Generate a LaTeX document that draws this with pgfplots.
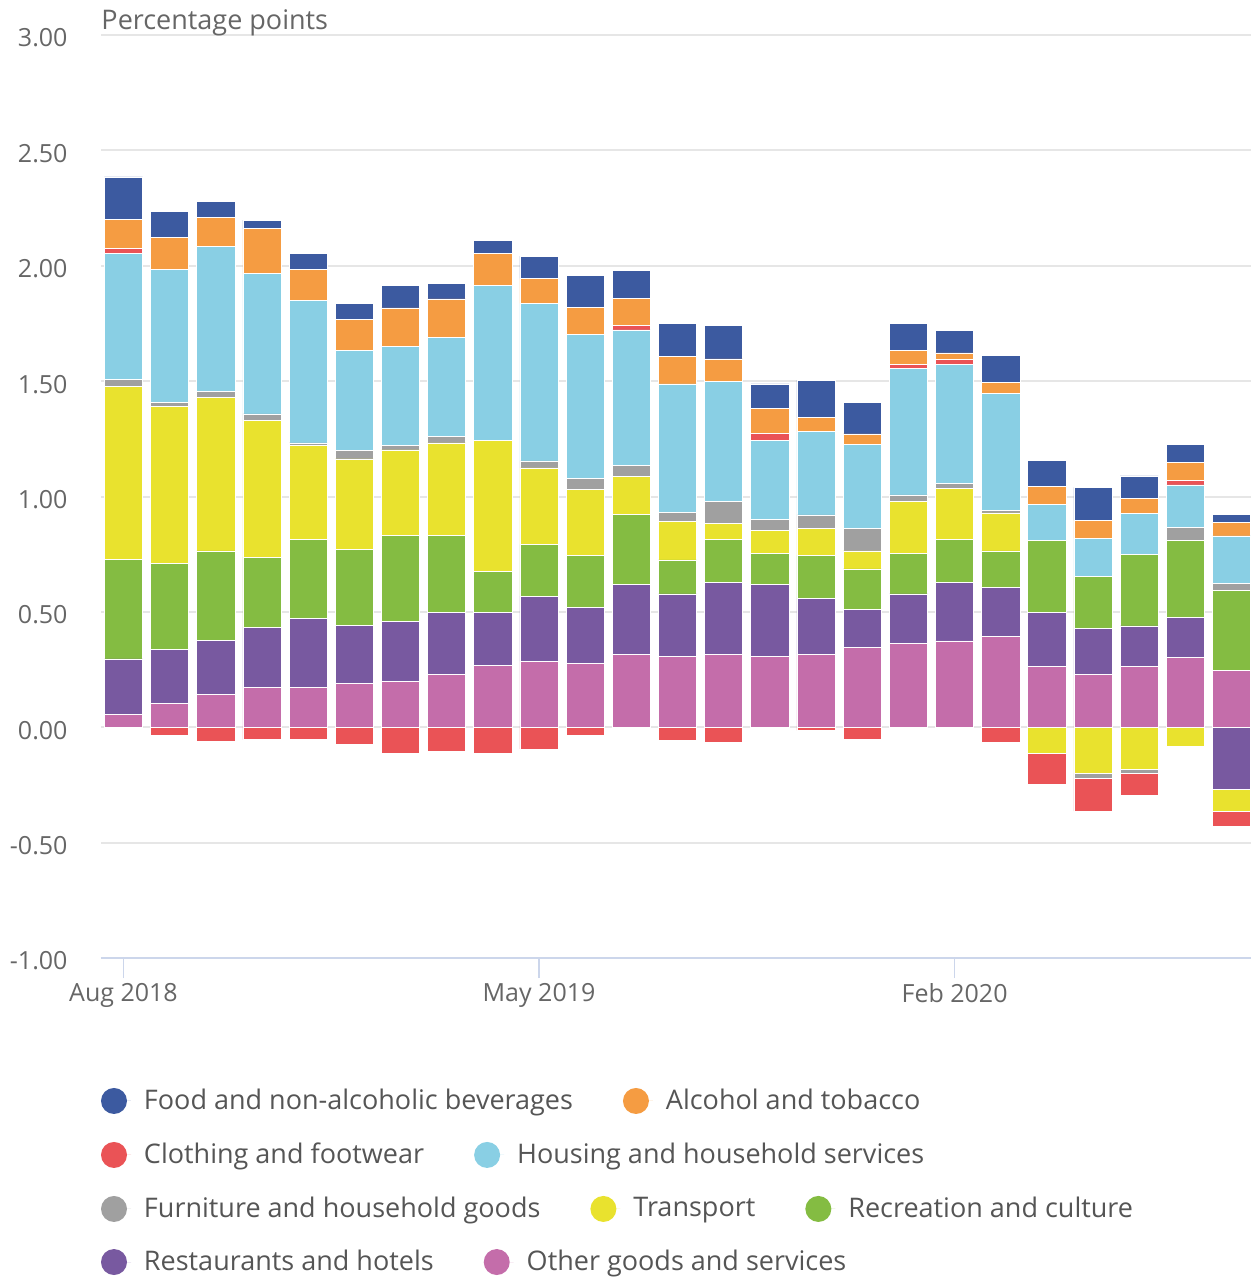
\documentclass[border=0pt]{standalone}
\usepackage{fontspec}
\setmainfont{Open Sans}
\usepackage{pgfplots}
\pgfplotsset{compat=1.18}
\usepackage{pgfplotstable}

\definecolor{foodc}{HTML}{3C5AA0}
\definecolor{alcc}{HTML}{F59C42}
\definecolor{clothc}{HTML}{EA5356}
\definecolor{housc}{HTML}{89CFE4}
\definecolor{furnc}{HTML}{A0A0A0}
\definecolor{transc}{HTML}{E9E22E}
\definecolor{recc}{HTML}{84BC42}
\definecolor{restc}{HTML}{7859A0}
\definecolor{otherc}{HTML}{C46DAA}
\definecolor{gridc}{HTML}{E6E6E6}
\definecolor{axisc}{HTML}{CCD6EB}
\definecolor{tickc}{HTML}{666666}
\definecolor{legc}{HTML}{555555}

\pgfplotstableread{
idx food alc cloth hous furn trans rec rest other
0 0.185 0.126 0.022 0.546 0.028 0.751 0.431 0.240 0.056
1 0.116 0.136 -0.034 0.577 0.018 0.681 0.372 0.234 0.103
2 0.069 0.126 -0.062 0.625 0.028 0.665 0.389 0.234 0.141
3 0.038 0.194 -0.054 0.608 0.027 0.594 0.303 0.262 0.172
4 0.067 0.136 -0.054 0.617 0.009 0.410 0.340 0.301 0.172
5 0.068 0.135 -0.075 0.433 0.038 0.391 0.331 0.252 0.189
6 0.098 0.165 -0.114 0.430 0.020 0.370 0.372 0.262 0.198
7 0.069 0.165 -0.105 0.430 0.029 0.400 0.333 0.271 0.228
8 0.057 0.137 -0.114 0.672 0.000 0.567 0.177 0.232 0.267
9 0.097 0.108 -0.094 0.683 0.030 0.331 0.225 0.282 0.286
10 0.138 0.117 -0.036 0.625 0.047 0.285 0.226 0.244 0.276
11 0.119 0.116 0.021 0.587 0.048 0.165 0.304 0.303 0.315
12 0.145 0.118 -0.055 0.558 0.038 0.167 0.147 0.271 0.307
13 0.147 0.097 -0.065 0.519 0.098 0.069 0.184 0.314 0.315
14 0.107 0.108 0.029 0.343 0.048 0.099 0.136 0.311 0.307
15 0.163 0.060 -0.014 0.361 0.059 0.116 0.186 0.243 0.316
16 0.136 0.046 -0.054 0.364 0.097 0.078 0.176 0.164 0.346
17 0.117 0.060 0.018 0.547 0.029 0.224 0.176 0.213 0.365
18 0.097 0.029 0.019 0.517 0.021 0.223 0.185 0.254 0.374
19 0.116 0.050 -0.064 0.507 0.010 0.165 0.157 0.214 0.393
20 0.115 0.078 -0.136 0.156 0.000 -0.112 0.311 0.232 0.265
21 0.144 0.078 -0.143 0.165 -0.020 -0.200 0.224 0.201 0.228
22 0.098 0.066 -0.095 0.176 -0.018 -0.182 0.310 0.174 0.265
23 0.078 0.076 0.021 0.184 0.058 -0.082 0.331 0.173 0.304
24 0.038 0.057 -0.065 0.205 0.032 -0.098 0.347 -0.268 0.245
}\data

\pgfplotsset{
  base/.style={
    width=460pt, height=369.2pt, scale only axis,
    xmin=-0.487, xmax=24.42, ymin=-1, ymax=3,
    enlargelimits=false,
    ybar stacked, bar width=15.3pt,
    legend columns=-1,
    legend style={draw=none, fill=none, inner sep=0pt, outer sep=0pt,
      anchor=west, column sep=0pt,
      font=\fontsize{10.8}{13}\selectfont, text=legc,
      nodes={inner sep=0pt},
      /tikz/every odd column/.append style={column sep=5.2pt},
      /tikz/every even column/.append style={column sep=20pt}},
    legend image code/.code={\fill[##1] (0pt,0pt) circle (5.2pt); \path (-5.2pt,0pt) -- (6.8pt,0pt);},
  },
  bs/.style={fill=#1, draw=white, line width=0.3pt, forget plot},
}

\begin{document}
\begin{tikzpicture}
% positive contributions, grid, ticks
\begin{axis}[base,
  axis lines*=left,
  x axis line style={draw=axisc, line width=0.8pt},
  y axis line style={draw=none},
  ymajorgrids, grid style={draw=gridc, line width=0.8pt},
  ytick={-1,-0.5,0,0.5,1,1.5,2,2.5,3},
  xtick={0,9,18}, xticklabels={Aug 2018,May 2019,Feb 2020},
  tick align=outside, major tick length=8pt,
  xtick style={draw=axisc, line width=0.6pt},
  ytick style={draw=none},
  yticklabel style={font=\fontsize{10}{12}\selectfont, text=tickc, anchor=east, inner sep=0pt, xshift=-5.2pt, yshift=-1.2pt,
    /pgf/number format/fixed, /pgf/number format/fixed zerofill,
    /pgf/number format/precision=2, /pgf/number format/assume math mode=true},
  xticklabel style={font=\fontsize{10}{12}\selectfont, text=tickc, yshift=1.2pt},
  legend style={at={(0,-0.1549)}},
]
\addplot[bs=otherc] table[x=idx, y expr={max(\thisrow{other},0)}] {\data};
\addplot[bs=restc] table[x=idx, y expr={max(\thisrow{rest},0)}] {\data};
\addplot[bs=recc] table[x=idx, y expr={max(\thisrow{rec},0)}] {\data};
\addplot[bs=transc] table[x=idx, y expr={max(\thisrow{trans},0)}] {\data};
\addplot[bs=furnc] table[x=idx, y expr={max(\thisrow{furn},0)}] {\data};
\addplot[bs=housc] table[x=idx, y expr={max(\thisrow{hous},0)}] {\data};
\addplot[bs=clothc] table[x=idx, y expr={max(\thisrow{cloth},0)}] {\data};
\addplot[bs=alcc] table[x=idx, y expr={max(\thisrow{alc},0)}] {\data};
\addplot[bs=foodc] table[x=idx, y expr={max(\thisrow{food},0)}] {\data};
\addlegendimage{fill=foodc, draw=none}
\addlegendentry{Food and non-alcoholic beverages}
\addlegendimage{fill=alcc, draw=none}
\addlegendentry{Alcohol and tobacco}
\end{axis}
% negative contributions
\begin{axis}[base, hide axis, legend style={at={(0,-0.2134)}}]
\addplot[bs=otherc] table[x=idx, y expr={min(\thisrow{other},0)}] {\data};
\addplot[bs=restc] table[x=idx, y expr={min(\thisrow{rest},0)}] {\data};
\addplot[bs=recc] table[x=idx, y expr={min(\thisrow{rec},0)}] {\data};
\addplot[bs=transc] table[x=idx, y expr={min(\thisrow{trans},0)}] {\data};
\addplot[bs=furnc] table[x=idx, y expr={min(\thisrow{furn},0)}] {\data};
\addplot[bs=housc] table[x=idx, y expr={min(\thisrow{hous},0)}] {\data};
\addplot[bs=clothc] table[x=idx, y expr={min(\thisrow{cloth},0)}] {\data};
\addplot[bs=alcc] table[x=idx, y expr={min(\thisrow{alc},0)}] {\data};
\addplot[bs=foodc] table[x=idx, y expr={min(\thisrow{food},0)}] {\data};
\addlegendimage{fill=clothc, draw=none}
\addlegendentry{Clothing and footwear}
\addlegendimage{fill=housc, draw=none}
\addlegendentry{Housing and household services}
\end{axis}
% legend row 3
\begin{axis}[base, hide axis, legend style={at={(0,-0.2719)}}]
\addlegendimage{fill=furnc, draw=none}
\addlegendentry{Furniture and household goods}
\addlegendimage{fill=transc, draw=none}
\addlegendentry{Transport}
\addlegendimage{fill=recc, draw=none}
\addlegendentry{Recreation and culture}
\end{axis}
% legend row 4
\begin{axis}[base, hide axis, legend style={at={(0,-0.3294)}}]
\addlegendimage{fill=restc, draw=none}
\addlegendentry{Restaurants and hotels}
\addlegendimage{fill=otherc, draw=none}
\addlegendentry{Other goods and services}
\end{axis}
\node[anchor=base west, inner sep=0pt, font=\fontsize{10.8}{13}\selectfont, text=tickc] at (0pt,371.2pt) {Percentage points};
\pgfresetboundingbox
\useasboundingbox (-40.4pt,-128pt) rectangle (460pt,383.2pt);
\end{tikzpicture}
\end{document}
